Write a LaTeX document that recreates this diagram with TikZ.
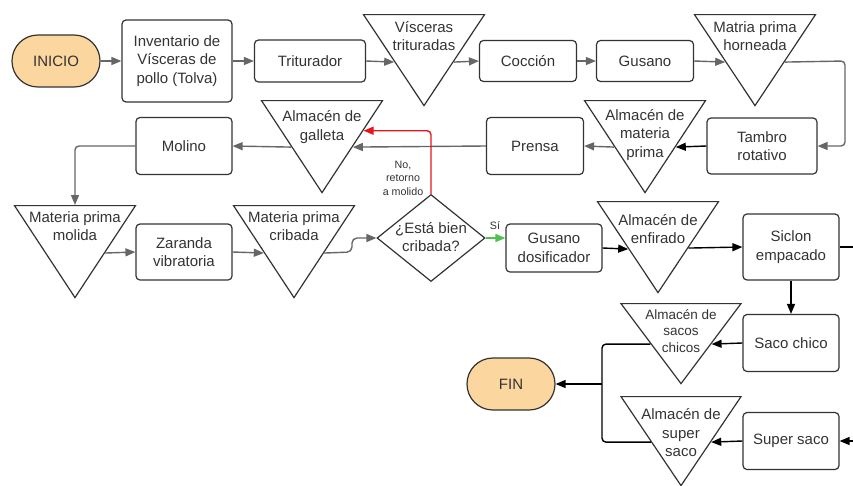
\documentclass[tikz,border=0pt]{standalone}
\usepackage{fontspec}
\setmainfont{Liberation Sans}
\usepackage{xcolor}
\usetikzlibrary{shapes.geometric,arrows.meta,calc}

\definecolor{edgegray}{HTML}{333333}
\definecolor{linegray}{HTML}{666666}
\definecolor{termfill}{HTML}{FBD69F}
\definecolor{noline}{HTML}{E8141C}
\definecolor{siline}{HTML}{4EC24E}

\begin{document}
\begin{tikzpicture}[x=1pt, y=-1pt,
    font=\fontsize{15}{18.5}\selectfont,
    box/.style={rectangle, rounded corners=4pt, draw=edgegray, line width=1.2pt, align=center, inner sep=2pt, text=edgegray},
    term/.style={rectangle, rounded corners=25.9pt, draw=edgegray, fill=termfill, line width=1.2pt, minimum width=88pt, minimum height=52pt, text=edgegray},
    store/.style={isosceles triangle, isosceles triangle stretches, shape border rotate=-90, draw=edgegray, line width=1.2pt, inner sep=0pt, minimum width=121pt, minimum height=91pt},
    decision/.style={diamond, draw=edgegray, line width=1.2pt, inner sep=0pt, minimum width=108pt, minimum height=87pt},
    lbl/.style={align=center, text=edgegray, inner sep=0pt},
    small/.style={align=center, text=edgegray, inner sep=0pt, font=\fontsize{10.7}{13.5}\selectfont},
    garr/.style={-{Triangle[length=10pt,width=8pt]}, line width=1.4pt, draw=linegray},
    barr/.style={-{Triangle[length=10pt,width=8pt]}, line width=1.4pt, draw=black},
    bline/.style={line width=1.4pt, draw=black},
    noarr/.style={-{Triangle[length=10pt,width=8pt]}, line width=1.4pt, draw=noline},
    siarr/.style={-{Triangle[length=10pt,width=8pt]}, line width=1.4pt, draw=siline},
]
\useasboundingbox (0,0) rectangle (853,485);

% === FILA 1 ===
\node[term] (inicio) at (56,61) {INICIO};
\node[box, minimum width=110pt, minimum height=82pt] (inv) at (177,61) {Inventario de\\Vísceras de\\pollo (Tolva)};
\node[box, minimum width=111pt, minimum height=42pt] (trit) at (310,61) {Triturador};
\node[store, anchor=north] (vt) at (424,14) {};
\node[lbl] (vt-t) at (424,36) {Vísceras\\trituradas};
\node[box, minimum width=97pt, minimum height=41pt] (cocc) at (528,61) {Cocción};
\node[box, minimum width=97pt, minimum height=41pt] (gus) at (645,61) {Gusano};
\node[store, anchor=north] (mh) at (755,14) {};
\node[lbl] (mh-t) at (755,36) {Matria prima\\horneada};
\coordinate (mhturn) at (845,61);

% === FILA 2 ===
\node[box, minimum width=110pt, minimum height=56pt] (tam) at (762,146) {Tambro\\rotativo};
\node[store, anchor=north, minimum height=92pt] (mp) at (645,100) {};
\node[lbl] (mp-t) at (645,135) {Almacén de\\materia\\prima};
\node[box, minimum width=97pt, minimum height=57pt] (pren) at (535,146) {Prensa};
\node[store, anchor=north, minimum height=92pt] (gal) at (322,100) {};
\node[lbl] (gal-t) at (322,127) {Almacén de\\galleta};
\node[box, minimum width=96pt, minimum height=57pt] (mol) at (184,146) {Molino};

% === FILA 3 ===
\node[store, anchor=north, minimum height=92pt] (molida) at (75,205) {};
\node[lbl] (molida-t) at (75,226) {Materia prima\\molida};
\node[box, minimum width=96pt, minimum height=56pt] (zar) at (184,252) {Zaranda\\vibratoria};
\node[store, anchor=north, minimum height=92pt] (crib) at (294,205) {};
\node[lbl] (crib-t) at (294,226) {Materia prima\\cribada};
\coordinate (cribturn) at (352,252);
\node[decision] (dia) at (431,238) {};
\node[lbl] (dia-t) at (431,237) {¿Está bien\\cribada?};
\node[small] (no-t) at (403,178) {No,\\retorno\\a molido};
\node[small] (si-t) at (495,226) {Sí};
\node[box, minimum width=96pt, minimum height=48pt] (dos) at (554,248) {Gusano\\dosificador};
\node[store, anchor=north] (enf) at (658,201) {};
\node[lbl] (enf-t) at (658,229) {Almacén de\\enfirado};
\node[box, minimum width=96pt, minimum height=66pt] (sic) at (791,247) {Siclon\\empacado};
\coordinate (sicout) at (853,247);

% === EMPAQUE ===
\node[box, minimum width=96pt, minimum height=57pt] (sch) at (791,343) {Saco chico};
\node[store, anchor=north, minimum width=120pt, minimum height=80pt] (sc) at (681,303) {};
\node[lbl, font=\fontsize{13.5}{16.5}\selectfont] (sc-t) at (681,331) {Almacén de\\sacos\\chicos};
\node[term] (fin) at (511,384) {FIN};
\coordinate (fork) at (602,384);
\node[store, anchor=north, minimum width=120pt, minimum height=89pt] (ss) at (681,396) {};
\node[lbl] (ss-t) at (681,433) {Almacén de\\super\\saco};
\node[box, minimum width=96pt, minimum height=57pt] (ssb) at (791,441) {Super saco};
\coordinate (ssin) at (853,441);

% flechas fila 1
\draw[garr] (inicio) -- (inv);
\draw[garr] (inv) -- (trit);
\draw[garr] (trit.east) -- ($(vt.right corner)!.516!(vt.apex)$);
\draw[garr] ($(vt.left corner)!.516!(vt.apex)$) -- (cocc.west);
\draw[garr] (cocc) -- (gus);
\draw[garr] (gus.east) -- ($(mh.right corner)!.516!(mh.apex)$);
\draw[garr, rounded corners=4pt] ($(mh.left corner)!.516!(mh.apex)$) -- (mhturn) |- (tam.east);

% flechas fila 2
\draw[barr] (tam.west) -- ($(mp.left corner)!.5!(mp.apex)$);
\draw[garr] ($(mp.right corner)!.5!(mp.apex)$) -- (pren.east);
\draw[garr] (pren.west) -- ($(gal.left corner)!.5!(gal.apex)$);
\draw[garr] ($(gal.right corner)!.5!(gal.apex)$) -- (mol.east);
\draw[garr, rounded corners=4pt] (mol.west) -| (molida.north);

% flechas fila 3
\draw[garr] ($(molida.left corner)!.51!(molida.apex)$) -- (zar.west);
\draw[garr] (zar.east) -- ($(crib.right corner)!.51!(crib.apex)$);
\draw[garr, rounded corners=5pt] ($(crib.left corner)!.51!(crib.apex)$) -- (cribturn) |- (dia.west);
\draw[noarr, rounded corners=4pt] (dia.north) |- ($(gal.left corner)!.326!(gal.apex)$);
\draw[siarr] (dia.east) -- (dia.east -| dos.west);
\draw[barr] (dos.east) -- ($(enf.right corner)!.516!(enf.apex)$);
\draw[barr] ($(enf.left corner)!.505!(enf.apex)$) -- (sic.west);
\draw[bline] (sic.east) -- (sicout);

% flechas empaque
\draw[barr] (sic) -- (sch);
\draw[barr] (sch.west) -- ($(sc.left corner)!.5!(sc.apex)$);
\draw[bline, rounded corners=4pt] ($(sc.right corner)!.5!(sc.apex)$) -| (fork);
\draw[bline, rounded corners=4pt] ($(ss.right corner)!.506!(ss.apex)$) -| (fork);
\draw[barr] (fork) -- (fin.east);
\draw[barr] (ssin) -- (ssb.east);
\draw[barr] (ssb.west) -- ($(ss.left corner)!.506!(ss.apex)$);

\end{tikzpicture}
\end{document}
